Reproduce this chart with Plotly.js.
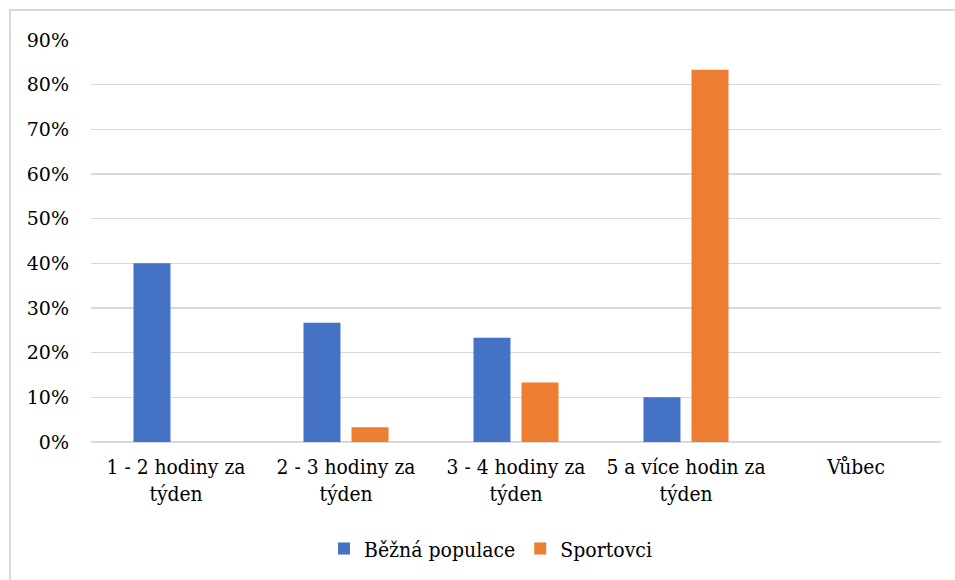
<!DOCTYPE html>
<html>
<head>
<meta charset="utf-8">
<script src="https://cdn.plot.ly/plotly-3.0.1.min.js"></script>
<style>
html,body{margin:0;padding:0;background:#fff;overflow:hidden;}
#frame{position:absolute;left:9px;top:9px;width:960px;height:600px;border-left:2px solid #d9d9d9;border-top:2px solid #d9d9d9;box-sizing:border-box;}
#chart{position:absolute;left:0;top:0;width:955px;height:580px;}
</style>
</head>
<body>
<div id="frame"></div>
<div id="chart"></div>
<script>
const categories = ["1 - 2 hodiny za<br>týden", "2 - 3 hodiny za<br>týden", "3 - 4 hodiny za<br>týden", "5 a více hodin za<br>týden", "Vůbec"];
const bezna = [0.40, 0.2667, 0.2333, 0.10, 0];
const sportovci = [0, 0.0333, 0.1333, 0.8333, 0];
const yTicks = [0,0.1,0.2,0.3,0.4,0.5,0.6,0.7,0.8,0.9];
const yTickText = ["0%","10%","20%","30%","40%","50%","60%","70%","80%","90%"];

function f(fam, s){ return {family: fam, size: s, color: "#000"}; }
const data = [
  {type:"bar", name:"Běžná populace", x:categories, y:bezna, marker:{color:"#4472C4"}, hoverinfo:"skip"},
  {type:"bar", name:"Sportovci", x:categories, y:sportovci, marker:{color:"#ED7D31"}, hoverinfo:"skip"}
];
const layout = {
  width:955, height:580,
  paper_bgcolor:"rgba(0,0,0,0)", plot_bgcolor:"rgba(0,0,0,0)",
  margin:{l:91, r:14, t:40, b:138, autoexpand:false},
  font:f("DejaVu Serif", 19),
  barmode:"group", bargap:0.435, bargroupgap:0.23,
  showlegend:true,
  legend:{orientation:"h", x:0.47, xanchor:"center", y:-0.215, yanchor:"top", font:f("DejaVu Serif Condensed", 21), itemwidth:30, traceorder:"normal"},
  xaxis:{showgrid:false, showline:false, zeroline:false, ticks:"", tickfont:f("DejaVu Serif Condensed", 20.8), tickangle:0, fixedrange:true, automargin:false, ticklabelstandoff:10},
  yaxis:{range:[0,0.9], tickvals:yTicks, ticktext:yTickText, showgrid:true, gridcolor:"#d9d9d9", gridwidth:1.5,
         zeroline:true, zerolinecolor:"#d9d9d9", zerolinewidth:1.5, showline:false, ticks:"", tickfont:f("DejaVu Serif", 19), ticklabelstandoff:21, fixedrange:true, automargin:false}
};
Plotly.newPlot("chart", data, layout, {staticPlot:true, displayModeBar:false});
</script>
</body>
</html>
